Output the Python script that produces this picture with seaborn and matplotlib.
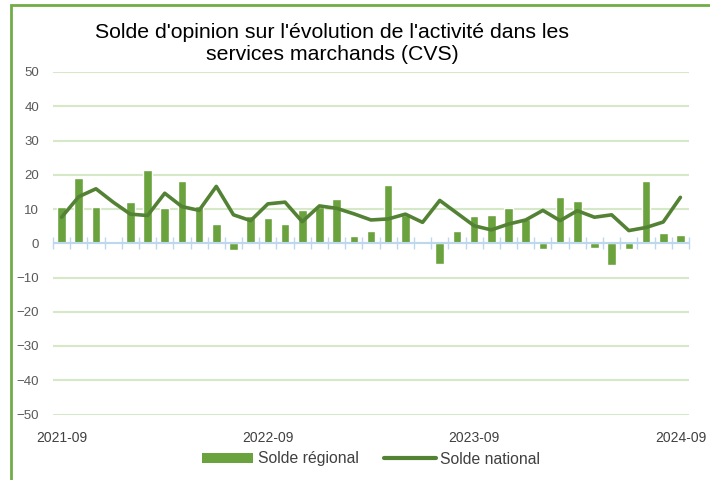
import pandas as pd
import matplotlib
matplotlib.use("Agg")
import matplotlib.pyplot as plt
import seaborn as sns
from matplotlib.patches import Rectangle
from matplotlib.lines import Line2D
from matplotlib.patches import Patch

# Data
mois = pd.period_range("2021-09", "2024-09", freq="M").strftime("%Y-%m").tolist()
solde_regional = [10.7, 19.0, 10.5, 0.8, 11.9, 21.4, 10.2, 18.3, 11.0, 5.6, -2.0, 8.1, 7.3,
                  5.6, 9.6, 10.7, 13.0, 2.1, 3.6, 16.9, 8.3, 0.4, -6.1, 3.5, 8.1, 8.3,
                  10.2, 7.0, -1.6, 13.6, 12.4, -1.4, -6.3, -1.6, 18.3, 2.9, 2.3]
solde_national = [7.6, 13.6, 15.9, 12.0, 8.5, 8.1, 14.6, 10.7, 9.6, 16.6, 8.3, 6.6, 11.5,
                  12.0, 6.3, 10.9, 10.2, 8.6, 6.8, 7.1, 8.5, 6.1, 12.5, 8.8, 5.1, 3.9,
                  5.6, 6.8, 9.6, 6.6, 9.5, 7.6, 8.3, 3.7, 4.6, 6.2, 13.4]
tick_labels = ["2021-09", "2022-09", "2023-09", "2024-09"]

df = pd.DataFrame({"mois": mois, "regional": solde_regional, "national": solde_national})

bar_color = "#6AA23E"
line_color = "#548235"
grid_color = "#D5E8C8"
zero_color = "#BDD7EE"

sns.set_style("white")
plt.rcParams['font.family'] = ['Liberation Sans', 'DejaVu Sans']

fig = plt.figure(figsize=(7.1, 4.8), dpi=100)
ax = fig.add_axes([53 / 710, 1 - 414.5 / 480, 636 / 710, 342.5 / 480])

sns.barplot(data=df, x="mois", y="regional", color=bar_color, width=0.5,
            saturation=1, ax=ax, zorder=2)
ax.axhline(0, color=zero_color, linewidth=1.5, zorder=2.5)
sns.lineplot(data=df, x="mois", y="national", color=line_color, linewidth=2.6,
             ax=ax, zorder=3, sort=False)

ax.set_ylim(-50, 50)
ax.set_xlim(-0.5, len(mois) - 0.5)
ax.set_yticks(range(-50, 51, 10))
ax.yaxis.grid(True, color=grid_color, linewidth=1.5, zorder=0)
ax.set_axisbelow(True)
for s in ax.spines.values():
    s.set_visible(False)
ax.set_xlabel(None)
ax.set_ylabel(None)
ax.set_xticks([mois.index(t) for t in tick_labels])
ax.set_xticklabels(tick_labels)
ax.tick_params(axis="x", length=0, pad=12, labelsize=10, labelcolor="#404040")
ax.tick_params(axis="y", length=0, pad=10, labelsize=9.5, labelcolor="#595959")

# category tick marks on the zero line
sec = ax.secondary_xaxis(0.5)
sec.set_xticks([i - 0.5 for i in range(len(mois) + 1)])
sec.set_xticklabels([])
sec.tick_params(axis="x", direction="inout", length=8, width=1, color=zero_color)
for s in sec.spines.values():
    s.set_visible(False)

fig.text(332 / 710, 1 - 43 / 480,
         "Solde d'opinion sur l'évolution de l'activité dans les\nservices marchands (CVS)",
         ha="center", va="center", fontsize=15.3, color="black", linespacing=1.2)

handles = [Patch(facecolor=bar_color, edgecolor="none"),
           Line2D([], [], color=line_color, linewidth=3)]
fig.legend(handles, ["Solde régional", "Solde national"], loc="center",
           bbox_to_anchor=(371 / 710, 1 - 459 / 480), ncol=2, frameon=False,
           fontsize=11.3, handlelength=3.3, handleheight=0.6, handletextpad=0.3,
           columnspacing=1.6, labelcolor="#404040")

fig.patches.append(Rectangle((11 / 710, -0.1), 1.2, 1.1 - 5 / 480,
                             transform=fig.transFigure, fill=False,
                             edgecolor="#70AD47", linewidth=2, zorder=10))

fig.savefig("out.png", dpi=100)
